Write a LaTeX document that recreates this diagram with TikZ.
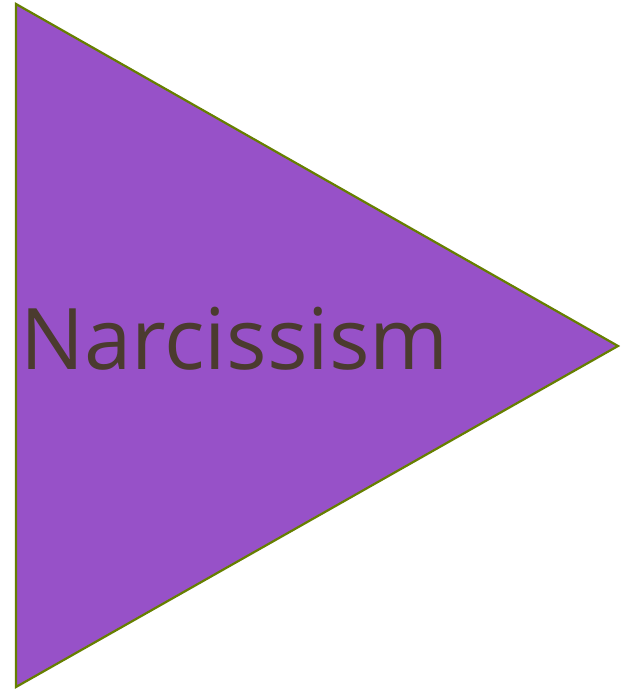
\documentclass[tikz,border=0pt]{standalone}
\usepackage{fontspec}
\setmainfont{Open Sans}
\definecolor{trifill}{HTML}{9751C8}
\definecolor{tristroke}{HTML}{667F00}
\definecolor{txt}{HTML}{4B3B2F}
\begin{document}
\begin{tikzpicture}[x=1pt,y=1pt]
\useasboundingbox (0,0) rectangle (626,692);
\coordinate (a) at (16,688);
\coordinate (b) at (16,5);
\coordinate (c) at (618,346);
\draw[fill=trifill,draw=tristroke,line width=2.2pt,line join=miter] (a) -- (c) -- (b) -- cycle;
\node[anchor=base west,inner sep=0pt,text=txt,font=\fontsize{85}{100}\selectfont] (t) at (20,322) {Narcissism};
\end{tikzpicture}
\end{document}
